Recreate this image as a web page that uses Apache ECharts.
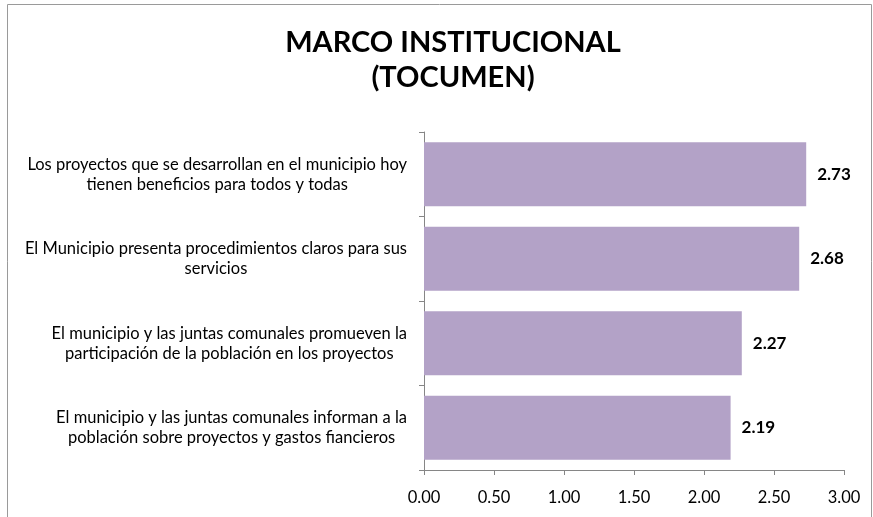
<!DOCTYPE html>
<html>
<head>
<meta charset="utf-8">
<script src="https://cdn.jsdelivr.net/npm/echarts@6/dist/echarts.min.js"></script>
<style>
  html, body { margin: 0; padding: 0; background: #fff; }
  #main { width: 873px; height: 517px; }
</style>
</head>
<body>
<div id="main"></div>
<script>
// categorias (de arriba hacia abajo) y promedios
var categorias = [
    'Los proyectos que se desarrollan en el municipio hoy\ntienen beneficios para todos y todas',
    'El Municipio presenta procedimientos claros para sus\nservicios',
    'El municipio y las juntas comunales promueven la\nparticipación de la población en los proyectos',
    'El municipio y las juntas comunales informan a la\npoblación sobre proyectos y gastos fiancieros'
];
var valores = [2.73, 2.68, 2.27, 2.19];
var ticks = [0, 0.5, 1, 1.5, 2, 2.5, 3];

var fuente = 'Lato, "Open Sans", sans-serif';
var myChart = echarts.init(document.getElementById('main'));
var option = {
    backgroundColor: '#fff',
    animation: false,
    title: {
        text: 'MARCO INSTITUCIONAL\n(TOCUMEN)',
        left: 448,
        top: 20,
        textAlign: 'center',
        textStyle: {
            fontFamily: fuente,
            fontSize: 29,
            fontWeight: 'bold',
            color: '#000',
            lineHeight: 35
        }
    },
    graphic: [{
        type: 'rect',
        shape: { x: 7.5, y: 4.5, width: 864, height: 600 },
        style: { fill: 'none', stroke: '#9a9a9a', lineWidth: 1 },
        silent: true
    }],
    grid: {
        left: 424,
        right: 29,
        top: 132,
        bottom: 47
    },
    xAxis: {
        type: 'value',
        min: ticks[0],
        max: ticks[ticks.length - 1],
        interval: 0.5,
        axisLine: { show: true, lineStyle: { color: '#868686' } },
        axisTick: { show: true, length: 5, lineStyle: { color: '#868686' } },
        splitLine: { show: false },
        axisLabel: {
            margin: 19,
            fontFamily: fuente,
            fontSize: 16.5,
            color: '#000',
            formatter: function (v) { return v.toFixed(2); }
        }
    },
    yAxis: {
        type: 'category',
        inverse: true,
        data: categorias,
        axisLine: { show: true, lineStyle: { color: '#868686' } },
        axisTick: { show: true, length: 5, lineStyle: { color: '#868686' } },
        axisLabel: {
            margin: 17,
            align: 'right',
            formatter: function (v) {
                return v.split('\n').map(function (l) { return '{c|' + l + '}'; }).join('\n');
            },
            rich: {
                c: {
                    align: 'center',
                    fontFamily: fuente,
                    fontSize: 16.5,
                    lineHeight: 20,
                    color: '#000'
                }
            }
        }
    },
    series: [{
        name: 'promedio',
        type: 'bar',
        data: valores,
        barCategoryGap: '24%',
        itemStyle: { color: '#B3A2C7' },
        label: {
            show: true,
            position: 'right',
            distance: 11,
            fontFamily: fuente,
            fontSize: 17,
            fontWeight: 'bold',
            color: '#000',
            formatter: function (p) { return p.value.toFixed(2); }
        }
    }]
};
myChart.setOption(option);
</script>
</body>
</html>
